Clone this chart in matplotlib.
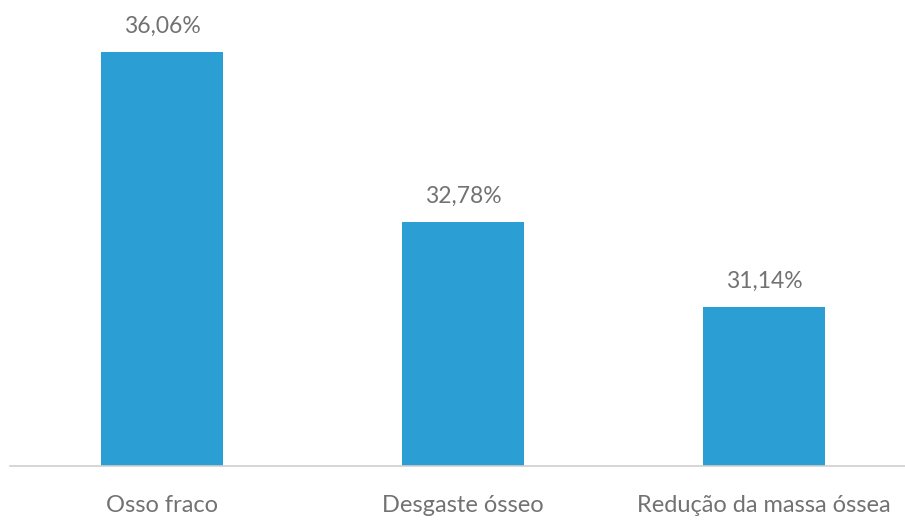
import matplotlib.pyplot as plt
import numpy as np

categories = ['Osso fraco', 'Desgaste ósseo', 'Redução da massa óssea']
values = [36.06, 32.78, 31.14]
value_labels = ['36,06%', '32,78%', '31,14%']

plt.rcParams['font.family'] = ['Lato', 'DejaVu Sans']

fig = plt.figure(figsize=(9.05, 5.21), dpi=100)
ax = fig.add_axes([0.011, 0.1056, 0.989, 0.8944])

x = np.arange(len(categories))
bars = ax.bar(x, values, width=0.405, color='#2B9FD4', bottom=0)

ax.set_ylim(28.07, 37.07)
ax.set_xlim(-0.505, 2.468)

for xi, v, lab in zip(x, values, value_labels):
    ax.text(xi, v + 0.3, lab, ha='center', va='bottom', fontsize=16.5, color='#727272')

ax.set_xticks(x)
ax.set_xticklabels(categories, fontsize=17, color='#727272')
ax.tick_params(axis='x', length=0, pad=21)
ax.set_yticks([])

for s in ['top', 'right', 'left']:
    ax.spines[s].set_visible(False)
ax.spines['bottom'].set_color('#cfcfcf')
ax.spines['bottom'].set_linewidth(1.2)

fig.savefig('out.png', dpi=100)
